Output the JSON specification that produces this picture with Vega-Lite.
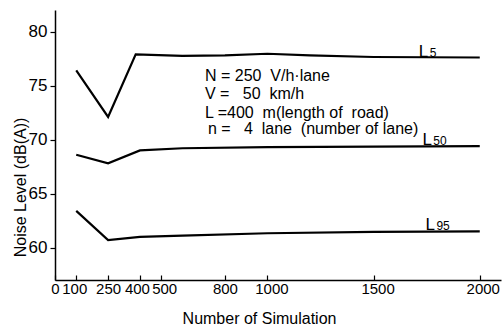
{
  "$schema": "https://vega.github.io/schema/vega-lite/v6.json",
  "width": 446,
  "height": 270,
  "autosize": {"type": "none"},
  "padding": {"left": 55, "top": 10, "right": 3, "bottom": 48},
  "background": "white",
  "config": {
    "view": {"stroke": null},
    "font": "Liberation Sans",
    "axis": {
      "domainColor": "black",
      "domainWidth": 1.5,
      "tickColor": "black",
      "tickWidth": 1.2,
      "labelColor": "black",
      "titleColor": "black",
      "titleFontWeight": "normal",
      "grid": false
    }
  },
  "datasets": {
    "series": [
      {"s": "L5", "x": 100, "y": 76.4},
      {"s": "L5", "x": 250, "y": 72.1},
      {"s": "L5", "x": 380, "y": 77.9},
      {"s": "L5", "x": 600, "y": 77.75},
      {"s": "L5", "x": 800, "y": 77.8},
      {"s": "L5", "x": 1000, "y": 77.95},
      {"s": "L5", "x": 1200, "y": 77.8},
      {"s": "L5", "x": 1500, "y": 77.65},
      {"s": "L5", "x": 2000, "y": 77.6},
      {"s": "L50", "x": 100, "y": 68.6},
      {"s": "L50", "x": 250, "y": 67.8},
      {"s": "L50", "x": 400, "y": 69.0},
      {"s": "L50", "x": 600, "y": 69.2},
      {"s": "L50", "x": 1000, "y": 69.3},
      {"s": "L50", "x": 1500, "y": 69.35},
      {"s": "L50", "x": 2000, "y": 69.4},
      {"s": "L95", "x": 100, "y": 63.4},
      {"s": "L95", "x": 250, "y": 60.7},
      {"s": "L95", "x": 400, "y": 61.0},
      {"s": "L95", "x": 600, "y": 61.1},
      {"s": "L95", "x": 1000, "y": 61.33},
      {"s": "L95", "x": 1500, "y": 61.45},
      {"s": "L95", "x": 2000, "y": 61.5}
    ],
    "notes": [
      {"x": 706, "y": 75.46, "t": "N = 250\u00a0\u00a0V/h·lane"},
      {"x": 706, "y": 73.8, "t": "V =\u00a0\u00a0\u00a050\u00a0\u00a0km/h"},
      {"x": 706, "y": 72.04, "t": "L =400\u00a0\u00a0m(length of\u00a0\u00a0road)"},
      {"x": 720, "y": 70.5, "t": "n =\u00a0\u00a0\u00a04\u00a0\u00a0lane\u00a0\u00a0(number of lane)"}
    ],
    "lmain": [
      {"x": 1713, "y": 77.69, "t": "L"},
      {"x": 1730, "y": 69.54, "t": "L"},
      {"x": 1745, "y": 61.67, "t": "L"}
    ],
    "lsub": [
      {"x": 1764, "y": 77.69, "t": "5"},
      {"x": 1781, "y": 69.54, "t": "50"},
      {"x": 1796, "y": 61.67, "t": "95"}
    ]
  },
  "encoding": {
    "x": {
      "field": "x",
      "type": "quantitative",
      "scale": {"domain": [0, 2100], "nice": false, "zero": false},
      "axis": {
        "values": [0, 100, 250, 400, 500, 800, 1000, 1500, 2000],
        "format": "d",
        "labelFontSize": 15,
        "tickSize": -5,
        "labelPadding": 6,
        "labelFlush": false,
        "labelOverlap": false,
        "labelOffset": {"expr": "datum.value == 100 ? -2 : datum.value == 400 ? -3 : datum.value == 500 ? 3 : datum.value == 1000 ? 4 : datum.value == 1500 ? 4 : datum.value == 2000 ? 3 : 0"},
        "title": "Number of Simulation",
        "titleFontSize": 16,
        "titleX": 204,
        "titleY": 43,
        "titleBaseline": "alphabetic"
      }
    },
    "y": {
      "field": "y",
      "type": "quantitative",
      "scale": {"domain": [57, 82], "nice": false, "zero": false},
      "axis": {
        "values": [60, 65, 70, 75, 80],
        "labelFontSize": 17,
        "tickSize": 5,
        "labelPadding": 3,
        "title": "Noise Level (dB(A))",
        "titleFontSize": 16,
        "titleAngle": -90,
        "titleX": -30,
        "titleY": 177,
        "titleAlign": "center",
        "titleBaseline": "alphabetic"
      }
    }
  },
  "layer": [
    {
      "data": {"name": "series"},
      "mark": {"type": "line", "color": "black", "strokeWidth": 2.2},
      "encoding": {"detail": {"field": "s"}}
    },
    {
      "data": {"name": "notes"},
      "mark": {"type": "text", "align": "left", "baseline": "alphabetic", "fontSize": 16, "color": "black"},
      "encoding": {"text": {"field": "t"}}
    },
    {
      "data": {"name": "lmain"},
      "mark": {"type": "text", "align": "left", "baseline": "alphabetic", "fontSize": 17, "color": "black"},
      "encoding": {"text": {"field": "t"}}
    },
    {
      "data": {"name": "lsub"},
      "mark": {"type": "text", "align": "left", "baseline": "alphabetic", "fontSize": 12, "color": "black"},
      "encoding": {"text": {"field": "t"}}
    }
  ]
}
